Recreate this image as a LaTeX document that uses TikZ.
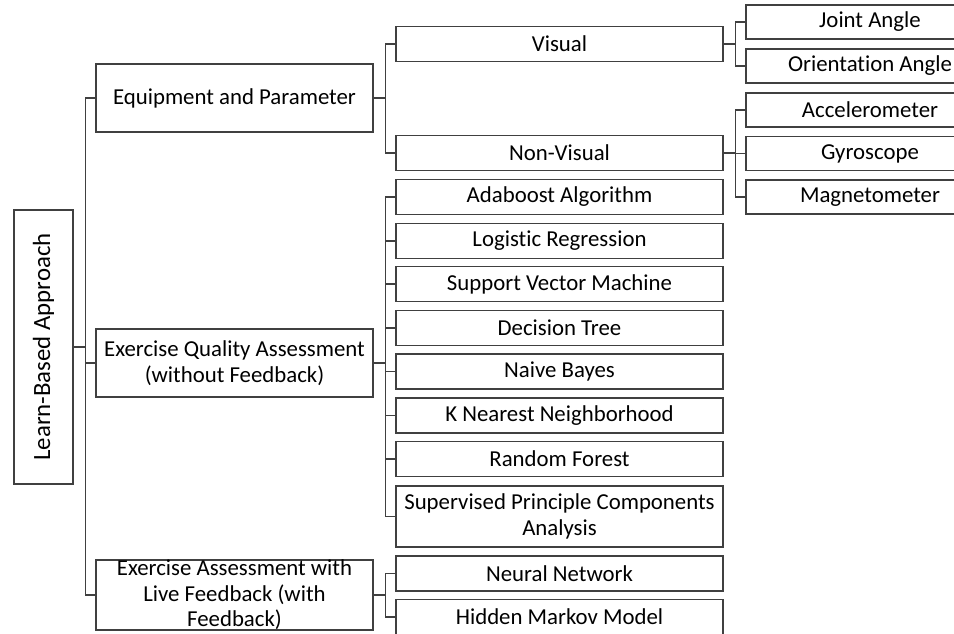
\documentclass[tikz,border=0pt]{standalone}
\usepackage{fontspec}
\setmainfont[Ligatures=NoCommon]{Carlito}
\usepackage{tikz}

\tikzset{
  box/.style={draw=black!75, line width=1.1pt, align=center, inner sep=0pt,
    font=\fontsize{22.8}{25.5}\selectfont},
  rootbox/.style={box, minimum width=59, minimum height=274,
    font=\fontsize{24.8}{28}\selectfont},
  catbox/.style={box, minimum width=277, minimum height=68},
  methbox/.style={box, minimum width=327, minimum height=35},
  sensbox/.style={box, minimum width=248, minimum height=34},
  link/.style={draw=black!75, line width=1.1pt},
}

\begin{document}
\begin{tikzpicture}[x=1pt, y=-1pt]
   \useasboundingbox (0,0) rectangle (954,633);
   \clip (0,0) rectangle (954,633);

   % root
   \node(root)[rootbox] at (43.5,347) {\rotatebox{90}{Learn-Based Approach}};

   % categories
   \node(equip)[catbox] at (234.5,98) {Equipment and Parameter};
   \node(quality)[catbox] at (234.5,363) {Exercise Quality Assessment\\(without Feedback)};
   \node(live)[catbox] at (234.5,595) {Exercise Assessment with\\Live Feedback (with\\Feedback)};

   % equipment
   \node(visual)[methbox] at (559.5,44) {Visual};
   \node(nonvis)[methbox] at (559.5,153) {Non-Visual};

   % methods without feedback
   \node(ada)[methbox] at (559.5,197) {Adaboost Algorithm};
   \node(logreg)[methbox] at (559.5,241) {Logistic Regression};
   \node(svm)[methbox] at (559.5,284) {Support Vector Machine};
   \node(dtree)[methbox] at (559.5,328) {Decision Tree};
   \node(nbayes)[methbox] at (559.5,371.5) {Naive Bayes};
   \node(knn)[methbox] at (559.5,415.5) {K Nearest Neighborhood};
   \node(rforest)[methbox] at (559.5,459) {Random Forest};
   \node(spca)[methbox, minimum height=61] at (559.5,516.5) {Supervised Principle Components\\Analysis};

   % methods with feedback
   \node(nnet)[methbox] at (559.5,573.5) {Neural Network};
   \node(hmm)[methbox] at (559.5,617) {Hidden Markov Model};

   % sensors
   \node(joint)[sensbox] at (870,22) {Joint Angle};
   \node(orient)[sensbox] at (870,66) {Orientation Angle};
   \node(accel)[sensbox] at (870,110) {Accelerometer};
   \node(gyro)[sensbox] at (870,153.5) {Gyroscope};
   \node(magnet)[sensbox] at (870,197) {Magnetometer};

   % connectors
   \foreach \c in {equip,quality,live}
     \draw[link] (root.east) -- ++(12,0) |- (\c.west);
   \foreach \c in {visual,nonvis}
     \draw[link] (equip.east) -- ++(12,0) |- (\c.west);
   \foreach \c in {ada,logreg,svm,dtree,nbayes,knn,rforest,spca}
     \draw[link] (quality.east) -- ++(12,0) |- (\c.west);
   \foreach \c in {nnet,hmm}
     \draw[link] (live.east) -- ++(12,0) |- (\c.west);
   \foreach \c in {joint,orient}
     \draw[link] (visual.east) -- ++(12,0) |- (\c.west);
   \foreach \c in {accel,gyro,magnet}
     \draw[link] (nonvis.east) -- ++(12,0) |- (\c.west);

\end{tikzpicture}
\end{document}
